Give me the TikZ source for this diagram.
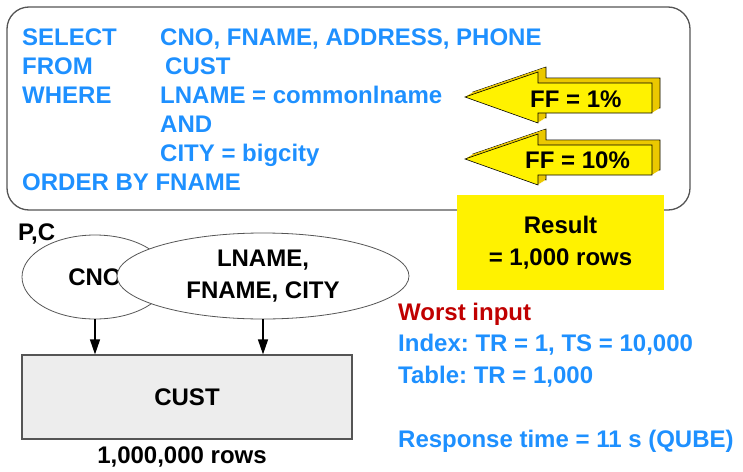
\documentclass[tikz,border=0pt]{standalone}
\usepackage{fontspec}
\setmainfont{Liberation Sans}
\frenchspacing
\usetikzlibrary{shapes.geometric, arrows.meta}
\definecolor{sqlblue}{RGB}{30,144,255}
\definecolor{worstred}{RGB}{192,0,0}
\definecolor{ffside}{RGB}{235,200,0}
\definecolor{boxline}{RGB}{85,85,85}
\tikzset{
  big_font/.style = {font=\fontsize{24}{29}\selectfont\bfseries},
  two_lines/.style = {font=\fontsize{24}{32}\selectfont\bfseries, align=center},
  keep_left/.style = {anchor=base west, inner sep=0},
  keep_middle/.style = {anchor=base, inner sep=0}
}
\tikzset{
  sql/.style = {big_font, keep_left, text=sqlblue},
  query/.style = {draw=boxline, line width=1.3pt, rounded corners=22pt,
      minimum width=683, minimum height=203, inner sep=0},
  result/.style = {two_lines, fill=yellow, minimum width=207, minimum height=95},
  index/.style = {draw=boxline, line width=0.8pt, fill=white, ellipse, inner sep=0},
  table/.style = {big_font, draw=boxline, line width=1.2pt, fill=black!7,
      minimum width=330, minimum height=84},
  ff_front/.style = {fill=yellow, draw=black, line width=0.6pt},
  ff_back/.style = {fill=ffside, draw=black, line width=0.6pt},
  down/.style = {-{Triangle[length=15pt, width=10pt]}, line width=1.2pt}
}
\begin{document}
\begin{tikzpicture}[x=1pt, y=-1pt]
    \useasboundingbox (0,0) rectangle (743,471);

    % Query
    \node[query] (q) at (348.5,108.5) {};
    \node[sql] (k_1) at (22,45) {SELECT};
    \node[sql] (k_2) at (22,74) {FROM};
    \node[sql] (k_3) at (22,103) {WHERE};
    \node[sql] (k_4) at (22,190) {ORDER BY FNAME};
    \node[sql] (c_1) at (160,45) {CNO, FNAME, ADDRESS, PHONE};
    \node[sql] (c_2) at (165,74) {CUST};
    \node[sql] (c_3) at (160,103) {LNAME = commonlname};
    \node[sql] (c_4) at (160,132) {AND};
    \node[sql] (c_5) at (160,161) {CITY = bigcity};

    % Result
    \node[result] (res) at (560.5,242.5) {Result\\= 1,000 rows};

    % Filter factor arrows
    \foreach \y in {0,62} {
        \fill[ff_back, shift={(8,-5)}] (465,97+\y) -- (538,72+\y) -- (538,83+\y)
            -- (652,83+\y) -- (652,113+\y) -- (538,113+\y) -- (538,123+\y) -- cycle;
        \foreach \d in {7,...,1}
            \fill[ffside, shift={(\d,-0.625*\d)}] (465,97+\y) -- (538,72+\y) -- (538,83+\y)
                -- (652,83+\y) -- (652,113+\y) -- (538,113+\y) -- (538,123+\y) -- cycle;
        \filldraw[ff_front] (465,97+\y) -- (538,72+\y) -- (538,83+\y)
            -- (652,83+\y) -- (652,113+\y) -- (538,113+\y) -- (538,123+\y) -- cycle;
    }
    \node[big_font, keep_left] (ff_1) at (530,107) {FF = 1\%};
    \node[big_font, keep_left] (ff_2) at (525,168) {FF = 10\%};

    % Indexes and table
    \node[index, big_font, minimum width=146, minimum height=84] (cno) at (95,277) {CNO};
    \node[index, two_lines, minimum width=292, minimum height=86] (lfc) at (263,276) {LNAME,\\FNAME, CITY};
    \node[big_font, keep_left] (pc) at (18,240) {P,C};
    \node[table] (cust) at (187,397) {CUST};
    \node[big_font, keep_middle] (rows) at (182,463) {1,000,000 rows};

    % Cost
    \node[big_font, keep_left, text=worstred] (w_1) at (398,320) {Worst input};
    \node[sql] (w_2) at (398,351.5) {Index: TR = 1, TS = 10,000};
    \node[sql] (w_3) at (398,383) {Table: TR = 1,000};
    \node[sql] (w_4) at (398,447) {Response time = 11 s (QUBE)};

    % Arrows
    \draw[down] (cno.south) -- (cno.south |- cust.north);
    \draw[down] (lfc.south) -- (lfc.south |- cust.north);
\end{tikzpicture}
\end{document}
